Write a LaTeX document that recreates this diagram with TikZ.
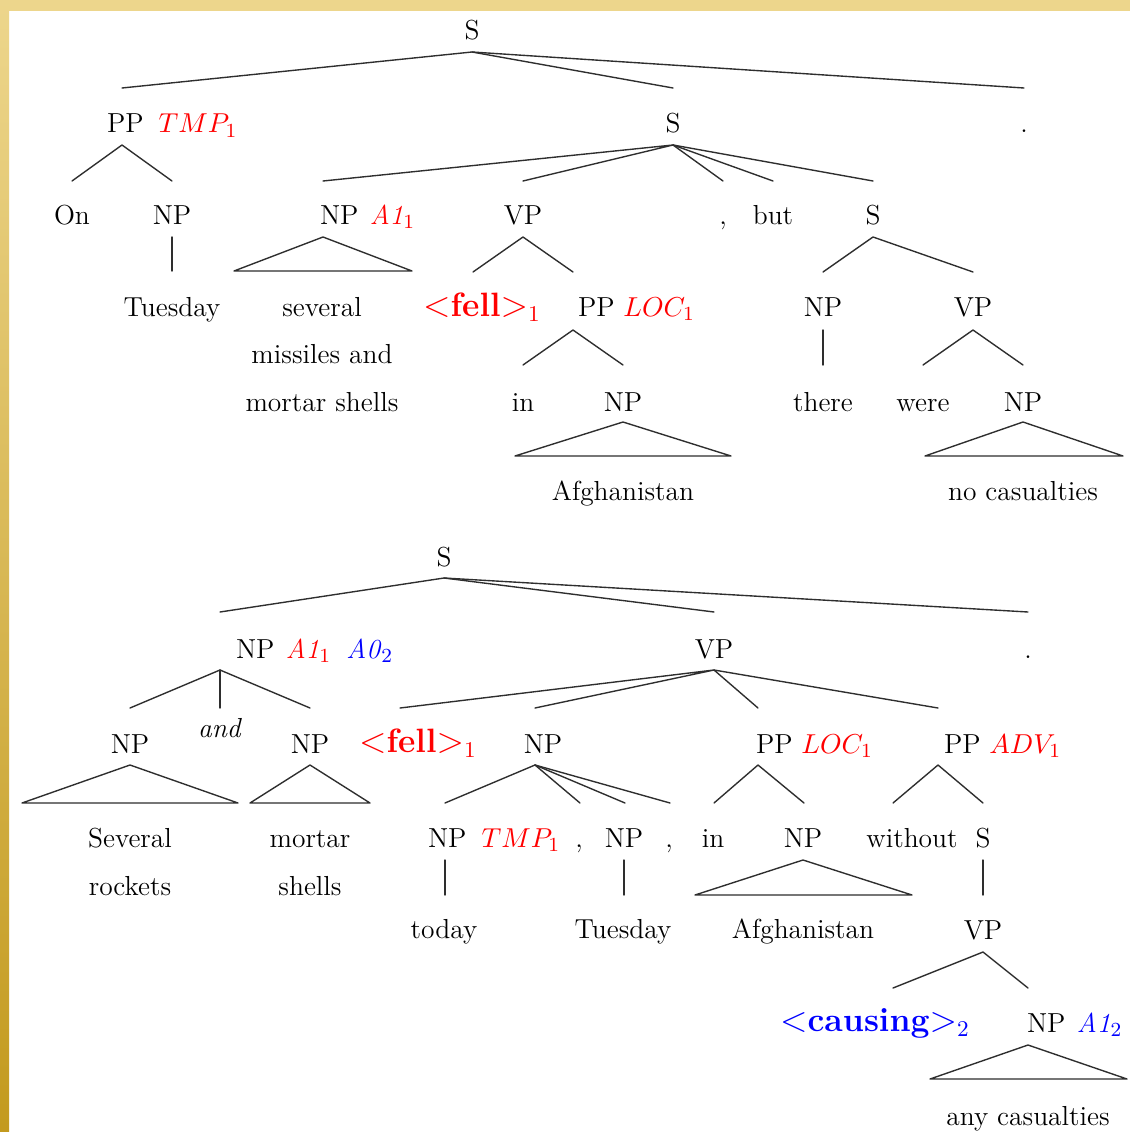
\documentclass[tikz,border=0pt]{standalone}
\usepackage{tikz}

\definecolor{goldA}{HTML}{EDD68C}
\definecolor{goldB}{HTML}{DABA5A}
\definecolor{goldC}{HTML}{C39A1E}
\definecolor{edgecol}{HTML}{2E2E2E}
\definecolor{roleRed}{HTML}{FF0000}
\definecolor{roleBlue}{HTML}{0000FF}

\newcommand{\redrole}[1]{\textcolor{roleRed}{#1}}
\newcommand{\bluerole}[1]{\textcolor{roleBlue}{#1}}

\tikzset{
  lab/.style={inner sep=0pt, outer sep=0pt, anchor=base, font=\fontsize{11}{13}\selectfont},
  labw/.style={lab, anchor=base west},
  predhead/.style={lab, font=\fontsize{13.5}{16}\selectfont\bfseries},
  branch/.style={draw=edgecol, line width=0.55pt, line cap=round, line join=round},
}

\begin{document}
\begin{tikzpicture}[x=0.4pt, y=-0.4pt]
% page and golden frame
\useasboundingbox (0,0) rectangle (1130,1132);
\fill[white] (0,0) rectangle (1130,1132);
\fill[goldA] (0,0) rectangle (1130,11);
\shade[top color=goldA, middle color=goldB, bottom color=goldC] (0,0) rectangle (9,1132);

% ---------------- first tree ----------------
\node[lab] (tS) at (472,40) {S};
\coordinate (tS-b) at (472,52);

\node[labw] (tPP) at (107,133) {PP\hspace{6pt}\redrole{$TMP_1$}};
\coordinate (tPP-t) at (122,88);  \coordinate (tPP-b) at (122,145);
\node[lab] (tS2) at (673,133) {S};
\coordinate (tS2-t) at (673,88);  \coordinate (tS2-b) at (673,145);
\node[lab] (tDot) at (1024,133) {.};
\coordinate (tDot-t) at (1024,88);
\draw[branch] (tPP-t) -- (tS-b) -- (tS2-t);
\draw[branch] (tS-b) -- (tDot-t);

\node[lab] (tOn) at (72,224) {On};
\coordinate (tOn-t) at (72,181);
\node[lab] (tNP1) at (172,224) {NP};
\coordinate (tNP1-t) at (172,181); \coordinate (tNP1-b) at (172,237);
\draw[branch] (tOn-t) -- (tPP-b) -- (tNP1-t);

\node[labw] (tNPA) at (320,224) {NP\hspace{4.5pt}\redrole{\textit{A1}$_1$}};
\coordinate (tNPA-t) at (323,181); \coordinate (tNPA-b) at (323,237);
\node[lab] (tVP) at (523,224) {VP};
\coordinate (tVP-t) at (523,181); \coordinate (tVP-b) at (523,237);
\node[lab] (tCom) at (723,224) {,};
\coordinate (tCom-t) at (723,181);
\node[lab] (tBut) at (773,224) {but};
\coordinate (tBut-t) at (773,181);
\node[lab] (tS3) at (873,224) {S};
\coordinate (tS3-t) at (873,181); \coordinate (tS3-b) at (873,237);
\draw[branch] (tNPA-t) -- (tS2-b) -- (tVP-t);
\draw[branch] (tS2-b) -- (tCom-t);
\draw[branch] (tS2-b) -- (tBut-t);
\draw[branch] (tS2-b) -- (tS3-t);

\node[lab] (tTue) at (172,316) {Tuesday};
\coordinate (tTue-t) at (172,271);
\draw[branch] (tNP1-b) -- (tTue-t);

\node[lab] (tSev) at (322,316) {several};
\node[lab] (tMis) at (322,363) {missiles and};
\node[lab] (tMor) at (322,411) {mortar shells};
\coordinate (tTriL) at (234,271); \coordinate (tTriR) at (412,271);
\draw[branch] (tNPA-b) -- (tTriL) -- (tTriR) -- cycle;

\node[predhead] (tFell) at (482,316) {\redrole{$<$fell$>_1$}};
\coordinate (tFell-t) at (473,272);
\node[labw] (tPPL) at (578,316) {PP\hspace{3.5pt}\redrole{$LOC_1$}};
\coordinate (tPPL-t) at (573,272); \coordinate (tPPL-b) at (573,330);
\draw[branch] (tFell-t) -- (tVP-b) -- (tPPL-t);

\node[lab] (tNP2) at (823,316) {NP};
\coordinate (tNP2-t) at (823,272); \coordinate (tNP2-b) at (823,330);
\node[lab] (tVP2) at (973,316) {VP};
\coordinate (tVP2-t) at (973,272); \coordinate (tVP2-b) at (973,330);
\draw[branch] (tNP2-t) -- (tS3-b) -- (tVP2-t);

\node[lab] (tIn) at (523,411) {in};
\coordinate (tIn-t) at (523,365);
\node[lab] (tNP3) at (623,411) {NP};
\coordinate (tNP3-t) at (623,365); \coordinate (tNP3-b) at (623,422);
\draw[branch] (tIn-t) -- (tPPL-b) -- (tNP3-t);

\node[lab] (tThere) at (823,411) {there};
\coordinate (tThere-t) at (823,365);
\draw[branch] (tNP2-b) -- (tThere-t);

\node[lab] (tWere) at (923,411) {were};
\coordinate (tWere-t) at (923,365);
\node[lab] (tNP4) at (1023,411) {NP};
\coordinate (tNP4-t) at (1023,365); \coordinate (tNP4-b) at (1023,422);
\draw[branch] (tWere-t) -- (tVP2-b) -- (tNP4-t);

\node[lab] (tAfg) at (623,500) {Afghanistan};
\coordinate (tAfgL) at (515,456); \coordinate (tAfgR) at (731,456);
\draw[branch] (tNP3-b) -- (tAfgL) -- (tAfgR) -- cycle;

\node[lab] (tNoCas) at (1023,500) {no casualties};
\coordinate (tNoCasL) at (925,456); \coordinate (tNoCasR) at (1123,456);
\draw[branch] (tNP4-b) -- (tNoCasL) -- (tNoCasR) -- cycle;

% ---------------- second tree ----------------
\node[lab] (bS) at (444,566) {S};
\coordinate (bS-b) at (444,578);

\node[labw] (bNPA) at (236,658) {NP\hspace{4.5pt}\redrole{\textit{A1}$_1$}\hspace{6pt}\bluerole{\textit{A0}$_2$}};
\coordinate (bNPA-t) at (220,612); \coordinate (bNPA-b) at (220,670);
\node[lab] (bVP) at (714,658) {VP};
\coordinate (bVP-t) at (714,612); \coordinate (bVP-b) at (714,670);
\node[lab] (bDot) at (1028,658) {.};
\coordinate (bDot-t) at (1028,612);
\draw[branch] (bNPA-t) -- (bS-b) -- (bVP-t);
\draw[branch] (bS-b) -- (bDot-t);

\node[lab] (bNP1) at (130,753) {NP};
\coordinate (bNP1-t) at (130,708); \coordinate (bNP1-b) at (130,765);
\node[lab] (bAnd) at (220,737) {\textit{and}};
\coordinate (bAnd-t) at (220,708);
\node[lab] (bNP2) at (310,753) {NP};
\coordinate (bNP2-t) at (310,708); \coordinate (bNP2-b) at (310,765);
\draw[branch] (bNP1-t) -- (bNPA-b) -- (bNP2-t);
\draw[branch] (bNPA-b) -- (bAnd-t);

\node[predhead] (bFell) at (418,752) {\redrole{$<$fell$>_1$}};
\coordinate (bFell-t) at (400,708);
\node[lab] (bNP3) at (543,753) {NP};
\coordinate (bNP3-t) at (535,708); \coordinate (bNP3-b) at (535,765);
\node[labw] (bPPL) at (756,753) {PP\hspace{3.5pt}\redrole{$LOC_1$}};
\coordinate (bPPL-t) at (758,708); \coordinate (bPPL-b) at (758,765);
\node[labw] (bPPA) at (944,753) {PP\hspace{3.5pt}\redrole{$ADV_1$}};
\coordinate (bPPA-t) at (938,708); \coordinate (bPPA-b) at (938,765);
\draw[branch] (bFell-t) -- (bVP-b) -- (bNP3-t);
\draw[branch] (bVP-b) -- (bPPL-t);
\draw[branch] (bVP-b) -- (bPPA-t);

\node[lab] (bSev) at (130,847) {Several};
\node[lab] (bRock) at (130,895) {rockets};
\coordinate (bSevL) at (22,803); \coordinate (bSevR) at (238,803);
\draw[branch] (bNP1-b) -- (bSevL) -- (bSevR) -- cycle;

\node[lab] (bMor) at (310,847) {mortar};
\node[lab] (bShl) at (310,895) {shells};
\coordinate (bMorL) at (250,803); \coordinate (bMorR) at (370,803);
\draw[branch] (bNP2-b) -- (bMorL) -- (bMorR) -- cycle;

\node[labw] (bNPT) at (428,847) {NP\hspace{6pt}\redrole{$TMP_1$}};
\coordinate (bNPT-t) at (445,803); \coordinate (bNPT-b) at (445,860);
\node[lab] (bC1) at (579,847) {,};
\coordinate (bC1-t) at (580,803);
\node[lab] (bNP4) at (624,847) {NP};
\coordinate (bNP4-t) at (625,803); \coordinate (bNP4-b) at (624,860);
\node[lab] (bC2) at (669,847) {,};
\coordinate (bC2-t) at (670,803);
\draw[branch] (bNPT-t) -- (bNP3-b) -- (bC1-t);
\draw[branch] (bNP3-b) -- (bNP4-t);
\draw[branch] (bNP3-b) -- (bC2-t);

\node[lab] (bIn) at (713,847) {in};
\coordinate (bIn-t) at (714,803);
\node[lab] (bNP5) at (803,847) {NP};
\coordinate (bNP5-t) at (804,803); \coordinate (bNP5-b) at (803,860);
\draw[branch] (bIn-t) -- (bPPL-b) -- (bNP5-t);

\node[lab] (bWith) at (912,847) {without};
\coordinate (bWith-t) at (893,803);
\node[lab] (bS2) at (983,847) {S};
\coordinate (bS2-t) at (983,803); \coordinate (bS2-b) at (983,860);
\draw[branch] (bWith-t) -- (bPPA-b) -- (bS2-t);

\node[lab] (bToday) at (444,938) {today};
\coordinate (bToday-t) at (445,895);
\draw[branch] (bNPT-b) -- (bToday-t);

\node[lab] (bTue) at (623,938) {Tuesday};
\coordinate (bTue-t) at (624,895);
\draw[branch] (bNP4-b) -- (bTue-t);

\node[lab] (bAfg) at (803,938) {Afghanistan};
\coordinate (bAfgL) at (695,895); \coordinate (bAfgR) at (912,895);
\draw[branch] (bNP5-b) -- (bAfgL) -- (bAfgR) -- cycle;

\node[lab] (bVP2) at (983,939) {VP};
\coordinate (bVP2-t) at (983,895); \coordinate (bVP2-b) at (983,952);
\draw[branch] (bS2-b) -- (bVP2-t);

\node[predhead] (bCaus) at (875,1031) {\bluerole{$<$causing$>_2$}};
\coordinate (bCaus-t) at (893,988);
\node[labw] (bNPA2) at (1027,1032) {NP\hspace{4.5pt}\bluerole{\textit{A1}$_2$}};
\coordinate (bNPA2-t) at (1028,988); \coordinate (bNPA2-b) at (1028,1045);
\draw[branch] (bCaus-t) -- (bVP2-b) -- (bNPA2-t);

\node[lab] (bAny) at (1028,1125) {any casualties};
\coordinate (bAnyL) at (930,1079); \coordinate (bAnyR) at (1127,1079);
\draw[branch] (bNPA2-b) -- (bAnyL) -- (bAnyR) -- cycle;
\end{tikzpicture}
\end{document}
